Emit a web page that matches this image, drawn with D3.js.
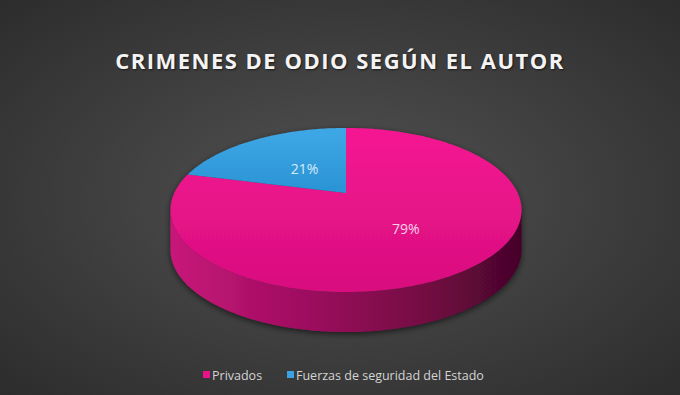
<!DOCTYPE html>
<html><head><meta charset="utf-8">
<script src="https://cdn.jsdelivr.net/npm/d3@7"></script>
<style>html,body{margin:0;padding:0;background:#333;}svg{display:block}</style>
</head><body>
<script>
const categories = ["Privados", "Fuerzas de seguridad del Estado"];
const values = [79, 21];
const labels = ["79%", "21%"];
const title = "CRIMENES DE ODIO SEGÚN EL AUTOR";

const W = 680, H = 395;
const svg = d3.select("body").append("svg").attr("width", W).attr("height", H);
const defs = svg.append("defs");

const bg = defs.append("radialGradient").attr("id","bg").attr("cx","50%").attr("cy","50%").attr("r","75%");
bg.append("stop").attr("offset","0%").attr("stop-color","#525252");
bg.append("stop").attr("offset","100%").attr("stop-color","#2a2a2a");
svg.append("rect").attr("width",W).attr("height",H).attr("fill","url(#bg)");

const colors = d3.scaleOrdinal().domain(categories).range(["url(#pinkTop)","url(#blueTop)"]);
const legendColors = d3.scaleOrdinal().domain(categories).range(["#e8128a","#3aa2e2"]);

const pt = defs.append("linearGradient").attr("id","pinkTop").attr("x1",0).attr("y1",0).attr("x2",0).attr("y2",1);
pt.append("stop").attr("offset","0%").attr("stop-color","#f51892");
pt.append("stop").attr("offset","100%").attr("stop-color","#d80e7e");
const bt = defs.append("linearGradient").attr("id","blueTop").attr("x1",0).attr("y1",0).attr("x2",0).attr("y2",1);
bt.append("stop").attr("offset","0%").attr("stop-color","#3fa8e6");
bt.append("stop").attr("offset","100%").attr("stop-color","#2a93d4");
const sd = defs.append("linearGradient").attr("id","side").attr("x1",0).attr("y1",0).attr("x2",1).attr("y2",0);
sd.append("stop").attr("offset","0%").attr("stop-color","#c8157a");
sd.append("stop").attr("offset","40%").attr("stop-color","#9c0e5e");
sd.append("stop").attr("offset","75%").attr("stop-color","#700940");
sd.append("stop").attr("offset","100%").attr("stop-color","#45052a");

const sh = defs.append("filter").attr("id","shadow").attr("x","-10%").attr("y","-10%").attr("width","120%").attr("height","130%");
sh.append("feGaussianBlur").attr("in","SourceAlpha").attr("stdDeviation",3);
sh.append("feOffset").attr("dx",0).attr("dy",2).attr("result","b");
sh.append("feComponentTransfer").append("feFuncA").attr("type","linear").attr("slope",0.6);
const mg = sh.append("feMerge"); mg.append("feMergeNode"); mg.append("feMergeNode").attr("in","SourceGraphic");

// perspective projection of the unit pie disc
const cx = 346, cy0 = 193, k = 0.2073, q = -38.5, s = 171.7, depth = 40;
function proj(a, r, dz) {
  const u = r*Math.sin(a), v = r*Math.cos(a), d = 1 + k*v;
  return [cx + s*u/d, (cy0 + q*v)/d + dz];
}
function arcPts(a0, a1, dz) {
  const n = Math.max(2, Math.ceil(Math.abs(a1-a0)/0.02));
  return d3.range(n+1).map(i => proj(a0 + (a1-a0)*i/n, 1, dz));
}
const line = d3.line();

const pie = d3.pie().sort(null).startAngle(0).endAngle(2*Math.PI).value(d => d);
const arcs = pie(values);

const g = svg.append("g").attr("filter","url(#shadow)");
const aL = Math.acos(-k), aR = 2*Math.PI - Math.acos(-k);
const sidePts = arcPts(aL, aR, 0).concat(arcPts(aR, aL, depth));
g.append("path").attr("d", line(sidePts) + "Z").attr("fill","url(#side)");

g.selectAll("path.top").data(arcs).join("path").attr("class","top")
  .attr("d", d => line([proj(0,0,0)].concat(arcPts(d.startAngle, d.endAngle, 0))) + "Z")
  .attr("fill", (d,i) => colors(categories[i]));

const labelR = [0.52, 0.42];
svg.selectAll("text.lbl").data(arcs).join("text").attr("class","lbl")
  .attr("x", (d,i) => proj((d.startAngle+d.endAngle)/2, labelR[i], 0)[0])
  .attr("y", (d,i) => proj((d.startAngle+d.endAngle)/2, labelR[i], 0)[1])
  .attr("text-anchor","middle").attr("dominant-baseline","central")
  .attr("font-family","Open Sans, sans-serif").attr("font-size",14)
  .attr("fill", (d,i) => i === 0 ? "#fbd3ea" : "#d6ecfa")
  .text((d,i) => labels[i]);

svg.append("text").attr("x", 340).attr("y", 69).attr("text-anchor","middle")
  .attr("font-family","Open Sans, sans-serif").attr("font-weight","bold").attr("font-size",22)
  .attr("letter-spacing", 1.5).attr("fill","#f4f4f4")
  .style("text-shadow","1px 1px 2px rgba(0,0,0,0.6)")
  .text(title);

const legX = [203, 287];
const leg = svg.selectAll("g.leg").data(categories).join("g").attr("class","leg")
  .attr("transform", (d,i) => `translate(${legX[i]},375)`);
leg.append("rect").attr("x",0).attr("y",-4).attr("width",7).attr("height",7).attr("fill", d => legendColors(d));
leg.append("text").attr("x",9).attr("y",0).attr("dominant-baseline","central")
  .attr("font-family","Open Sans, sans-serif").attr("font-size",12.5).attr("fill","#d4d4d4")
  .text(d => d);
</script>
</body></html>
